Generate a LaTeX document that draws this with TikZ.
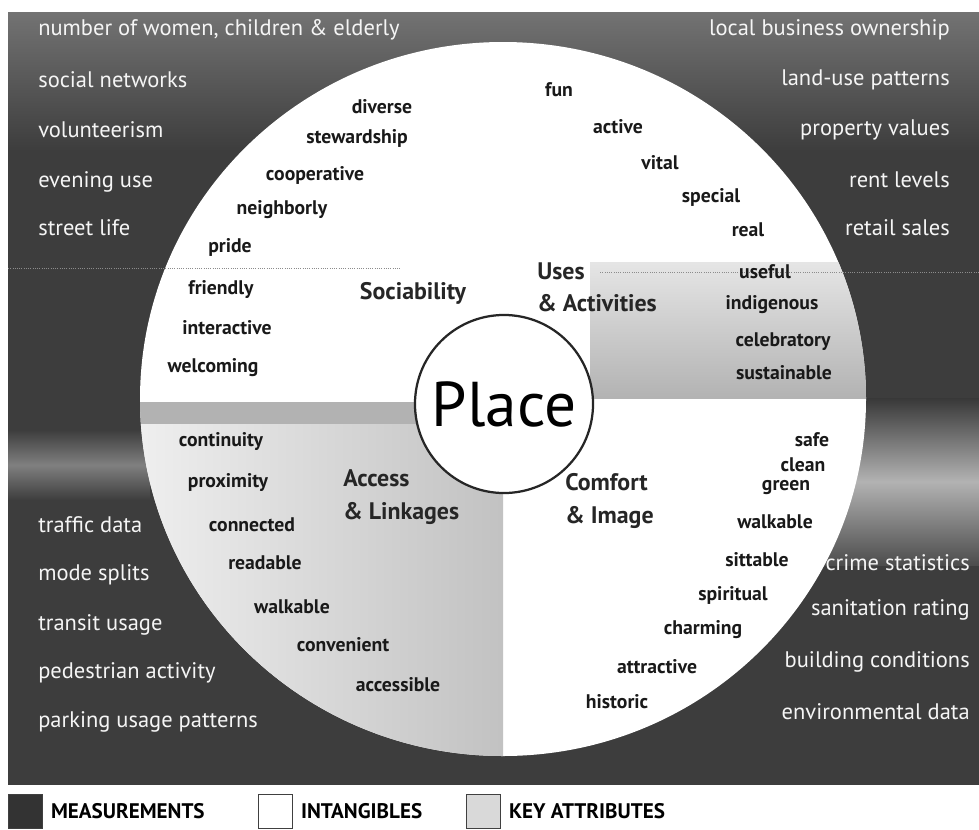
\documentclass[tikz,border=0pt]{standalone}
\usepackage{fontspec}
\setmainfont{PT Sans}
\usetikzlibrary{positioning}

\begin{document}
\begin{tikzpicture}[x=0.025cm, y=-0.025cm,
    meas/.style={text=black!4, font=\fontsize{16}{18}\selectfont, inner sep=0pt},
    intang/.style={text=black!90, font=\bfseries\fontsize{14}{16}\selectfont, inner sep=0pt},
    keyattr/.style={text=black!85, font=\bfseries\fontsize{17}{23}\selectfont, align=left, inner sep=0pt},
    legbox/.style={draw=black!75, minimum size=0.85cm, inner sep=0pt},
    legtext/.style={font=\bfseries\fontsize{15}{17}\selectfont, inner sep=0pt}]
    \useasboundingbox (0,0) rectangle (979,829);

    % measurements background
    \fill[black!76] (8,12) rectangle (979,785);
    \shade[top color=black!55, bottom color=black!76] (8,12) rectangle (979,150);
    \shade[top color=black!78, bottom color=black!70, middle color=black!30] (790,398) rectangle (979,565);
    \shade[top color=black!76, bottom color=black!76, middle color=black!50] (8,430) rectangle (150,500);

    % intangibles and key attributes
    \begin{scope}
      \clip (503,399) ellipse [x radius=363, y radius=357];
      \fill[white] (130,30) rectangle (880,770);
      \shade[top color=black!10, bottom color=black!30] (590,262) rectangle (880,398);
      \fill[black!30] (130,402) rectangle (503,424);
      \shade[left color=black!6, right color=black!24] (130,424) rectangle (503,770);
    \end{scope}
    \draw[black!45, densely dotted, line width=0.6pt] (8,268) -- (400,268);
    \draw[black!45, densely dotted, line width=0.6pt] (600,272) -- (979,272);

    \node[circle, draw=black!85, line width=1.6pt, fill=white, minimum size=4.45cm,
          font=\fontsize{45}{45}\selectfont] (place) at (504,404) {Place};

    % sociability
    \node[meas, anchor=west] (women) at (38,30) {number of women, children \& elderly};
    \node[meas, anchor=west] (networks) at (38,80) {social networks};
    \node[meas, anchor=west] (volunteer) at (38,130) {volunteerism};
    \node[meas, anchor=west] (evening) at (38,182) {evening use};
    \node[meas, anchor=west] (street) at (38,228) {street life};
    \node[intang] (diverse) at (382,107) {diverse};
    \node[intang] (steward) at (357,138) {stewardship};
    \node[intang] (coop) at (315,175) {cooperative};
    \node[intang] (neighborly) at (282,210) {neighborly};
    \node[intang] (pride) at (230,247) {pride};
    \node[intang] (friendly) at (221,290) {friendly};
    \node[intang] (interactive) at (227,328) {interactive};
    \node[intang] (welcoming) at (213,368) {welcoming};
    \node[keyattr] (sociability) at (413,293) {Sociability};

    % uses & activities
    \node[meas, anchor=east] (business) at (950,30) {local business ownership};
    \node[meas, anchor=east] (landuse) at (950,80) {land-use patterns};
    \node[meas, anchor=east] (property) at (950,130) {property values};
    \node[meas, anchor=east] (rent) at (950,180) {rent levels};
    \node[meas, anchor=east] (retail) at (950,228) {retail sales};
    \node[intang] (fun) at (559,90) {fun};
    \node[intang] (active) at (618,127) {active};
    \node[intang] (vital) at (660,163) {vital};
    \node[intang] (special) at (711,197) {special};
    \node[intang] (real) at (748,230) {real};
    \node[intang] (useful) at (765,272) {useful};
    \node[intang] (indigenous) at (772,305) {indigenous};
    \node[intang] (celebratory) at (783,342) {celebratory};
    \node[intang] (sustainable) at (784,373) {sustainable};
    \node[keyattr, anchor=west] (uses) at (537,287) {Uses\\\& Activities};

    % access & linkages
    \node[meas, anchor=west] (traffic) at (38,525) {traffic data};
    \node[meas, anchor=west] (mode) at (38,575) {mode splits};
    \node[meas, anchor=west] (transit) at (38,625) {transit usage};
    \node[meas, anchor=west] (pedestrian) at (38,673) {pedestrian activity};
    \node[meas, anchor=west] (parking) at (38,722) {parking usage patterns};
    \node[intang] (continuity) at (221,442) {continuity};
    \node[intang] (proximity) at (228,483) {proximity};
    \node[intang] (connected) at (252,525) {connected};
    \node[intang] (readable) at (265,563) {readable};
    \node[intang] (walkable) at (292,607) {walkable};
    \node[intang] (convenient) at (343,645) {convenient};
    \node[intang] (accessible) at (398,685) {accessible};
    \node[keyattr, anchor=west] (access) at (343,497) {Access\\\& Linkages};

    % comfort & image
    \node[meas, anchor=east] (crime) at (970,563) {crime statistics};
    \node[meas, anchor=east] (sanitation) at (970,610) {sanitation rating};
    \node[meas, anchor=east] (building) at (970,662) {building conditions};
    \node[meas, anchor=east] (environ) at (970,712) {environmental data};
    \node[intang] (safe) at (812,440) {safe};
    \node[intang] (clean) at (803,465) {clean};
    \node[intang] (green) at (786,488) {green};
    \node[intang] (walkable2) at (775,522) {walkable};
    \node[intang] (sittable) at (757,560) {sittable};
    \node[intang] (spiritual) at (733,595) {spiritual};
    \node[intang] (charming) at (703,630) {charming};
    \node[intang] (attractive) at (657,667) {attractive};
    \node[intang] (historic) at (617,702) {historic};
    \node[keyattr, anchor=west] (comfort) at (565,501) {Comfort\\\& Image};

    % legend
    \node[legbox, fill=black!80] (mbox) at (25,811) {};
    \node[legtext, right=6pt of mbox] (mlabel) {MEASUREMENTS};
    \node[legbox, fill=white] (ibox) at (275,811) {};
    \node[legtext, right=6pt of ibox] (ilabel) {INTANGIBLES};
    \node[legbox, fill=black!15] (kbox) at (483,811) {};
    \node[legtext, right=6pt of kbox] (klabel) {KEY ATTRIBUTES};
\end{tikzpicture}
\end{document}
